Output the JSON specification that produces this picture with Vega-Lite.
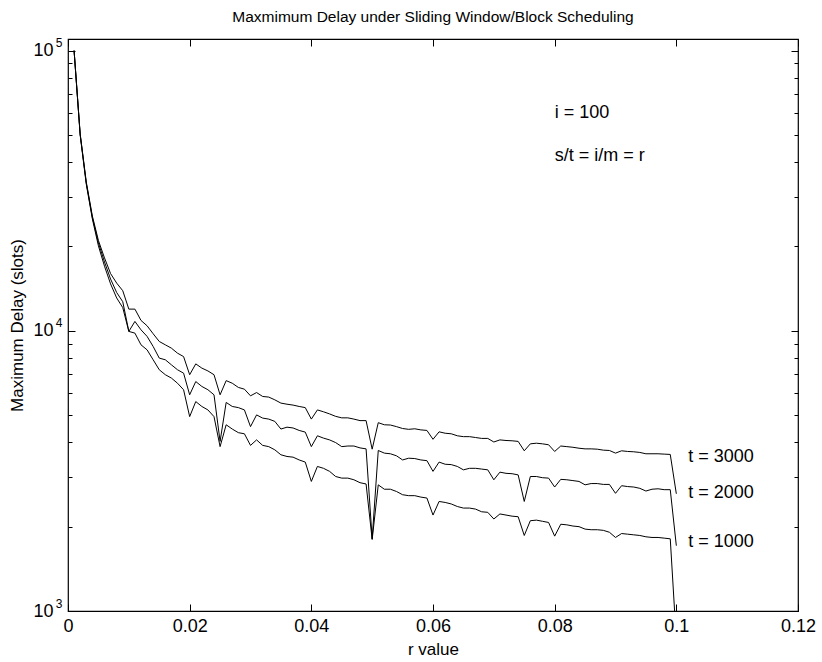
{
  "$schema": "https://vega.github.io/schema/vega-lite/v6.json",
  "width": 730,
  "height": 572,
  "autosize": {"type": "none"},
  "padding": {"left": 68, "top": 39, "right": 24, "bottom": 51},
  "background": "white",
  "title": {
    "text": "Maxmimum Delay under Sliding Window/Block Scheduling",
    "fontSize": 15.5,
    "fontWeight": "normal",
    "color": "black",
    "anchor": "middle",
    "offset": 11
  },
  "config": {
    "font": "Liberation Sans",
    "view": {"stroke": "black", "strokeWidth": 1.2},
    "axis": {
      "domain": false,
      "grid": false,
      "tickColor": "black",
      "tickWidth": 1,
      "labelColor": "black",
      "titleColor": "black",
      "titleFontWeight": "normal",
      "labelOverlap": false,
      "labelFlush": false,
      "labelBound": false
    }
  },
  "datasets": {
    "delay": [
      {"r":0.001,"t":1000,"d":100000},{"r":0.002,"t":1000,"d":50000},{"r":0.003,"t":1000,"d":33400},{"r":0.004,"t":1000,"d":25100},{"r":0.005,"t":1000,"d":20100},
      {"r":0.006,"t":1000,"d":17000},{"r":0.007,"t":1000,"d":14700},{"r":0.008,"t":1000,"d":13100},{"r":0.009,"t":1000,"d":12100},{"r":0.01,"t":1000,"d":9950},
      {"r":0.011,"t":1000,"d":9810},{"r":0.012,"t":1000,"d":8910},{"r":0.013,"t":1000,"d":8550},{"r":0.014,"t":1000,"d":7880},{"r":0.015,"t":1000,"d":7260},
      {"r":0.016,"t":1000,"d":6970},{"r":0.017,"t":1000,"d":6780},{"r":0.018,"t":1000,"d":6500},{"r":0.019,"t":1000,"d":6160},{"r":0.02,"t":1000,"d":4940},
      {"r":0.021,"t":1000,"d":5590},{"r":0.022,"t":1000,"d":5370},{"r":0.023,"t":1000,"d":5220},{"r":0.024,"t":1000,"d":4940},{"r":0.025,"t":1000,"d":3860},
      {"r":0.026,"t":1000,"d":4620},{"r":0.027,"t":1000,"d":4460},{"r":0.028,"t":1000,"d":4330},{"r":0.029,"t":1000,"d":4290},{"r":0.03,"t":1000,"d":3900},
      {"r":0.031,"t":1000,"d":4080},{"r":0.032,"t":1000,"d":3900},{"r":0.033,"t":1000,"d":3860},{"r":0.034,"t":1000,"d":3760},{"r":0.035,"t":1000,"d":3610},
      {"r":0.036,"t":1000,"d":3560},{"r":0.037,"t":1000,"d":3540},{"r":0.038,"t":1000,"d":3460},{"r":0.039,"t":1000,"d":3400},{"r":0.04,"t":1000,"d":2900},
      {"r":0.041,"t":1000,"d":3280},{"r":0.042,"t":1000,"d":3230},{"r":0.043,"t":1000,"d":3150},{"r":0.044,"t":1000,"d":3020},{"r":0.045,"t":1000,"d":2980},
      {"r":0.046,"t":1000,"d":2980},{"r":0.047,"t":1000,"d":2940},{"r":0.048,"t":1000,"d":2870},{"r":0.049,"t":1000,"d":2840},{"r":0.05,"t":1000,"d":1800},
      {"r":0.051,"t":1000,"d":2820},{"r":0.052,"t":1000,"d":2720},{"r":0.053,"t":1000,"d":2720},{"r":0.054,"t":1000,"d":2670},{"r":0.055,"t":1000,"d":2600},
      {"r":0.056,"t":1000,"d":2580},{"r":0.057,"t":1000,"d":2580},{"r":0.058,"t":1000,"d":2550},{"r":0.059,"t":1000,"d":2530},{"r":0.06,"t":1000,"d":2200},
      {"r":0.061,"t":1000,"d":2460},{"r":0.062,"t":1000,"d":2440},{"r":0.063,"t":1000,"d":2410},{"r":0.064,"t":1000,"d":2360},{"r":0.065,"t":1000,"d":2330},
      {"r":0.066,"t":1000,"d":2330},{"r":0.067,"t":1000,"d":2310},{"r":0.068,"t":1000,"d":2260},{"r":0.069,"t":1000,"d":2250},{"r":0.07,"t":1000,"d":2130},
      {"r":0.071,"t":1000,"d":2220},{"r":0.072,"t":1000,"d":2200},{"r":0.073,"t":1000,"d":2180},{"r":0.074,"t":1000,"d":2170},{"r":0.075,"t":1000,"d":1860},
      {"r":0.076,"t":1000,"d":2100},{"r":0.077,"t":1000,"d":2110},{"r":0.078,"t":1000,"d":2090},{"r":0.079,"t":1000,"d":2070},{"r":0.08,"t":1000,"d":1850},
      {"r":0.081,"t":1000,"d":2040},{"r":0.082,"t":1000,"d":2030},{"r":0.083,"t":1000,"d":2010},{"r":0.084,"t":1000,"d":2000},{"r":0.085,"t":1000,"d":1960},
      {"r":0.086,"t":1000,"d":1950},{"r":0.087,"t":1000,"d":1950},{"r":0.088,"t":1000,"d":1940},{"r":0.089,"t":1000,"d":1910},{"r":0.09,"t":1000,"d":1830},
      {"r":0.091,"t":1000,"d":1890},{"r":0.092,"t":1000,"d":1880},{"r":0.093,"t":1000,"d":1870},{"r":0.094,"t":1000,"d":1860},{"r":0.095,"t":1000,"d":1840},
      {"r":0.096,"t":1000,"d":1830},{"r":0.097,"t":1000,"d":1830},{"r":0.098,"t":1000,"d":1820},{"r":0.099,"t":1000,"d":1810},{"r":0.1,"t":1000,"d":790},

      {"r":0.001,"t":2000,"d":100000},{"r":0.002,"t":2000,"d":50200},{"r":0.003,"t":2000,"d":33700},{"r":0.004,"t":2000,"d":25400},{"r":0.005,"t":2000,"d":20600},
      {"r":0.006,"t":2000,"d":17600},{"r":0.007,"t":2000,"d":15300},{"r":0.008,"t":2000,"d":13700},{"r":0.009,"t":2000,"d":12700},{"r":0.01,"t":2000,"d":9950},
      {"r":0.011,"t":2000,"d":10800},{"r":0.012,"t":2000,"d":10080},{"r":0.013,"t":2000,"d":9550},{"r":0.014,"t":2000,"d":8790},{"r":0.015,"t":2000,"d":7990},
      {"r":0.016,"t":2000,"d":7880},{"r":0.017,"t":2000,"d":7560},{"r":0.018,"t":2000,"d":7260},{"r":0.019,"t":2000,"d":7060},{"r":0.02,"t":2000,"d":5910},
      {"r":0.021,"t":2000,"d":6590},{"r":0.022,"t":2000,"d":6330},{"r":0.023,"t":2000,"d":6160},{"r":0.024,"t":2000,"d":5910},{"r":0.025,"t":2000,"d":4030},
      {"r":0.026,"t":2000,"d":5550},{"r":0.027,"t":2000,"d":5370},{"r":0.028,"t":2000,"d":5320},{"r":0.029,"t":2000,"d":5220},{"r":0.03,"t":2000,"d":4550},
      {"r":0.031,"t":2000,"d":5010},{"r":0.032,"t":2000,"d":4880},{"r":0.033,"t":2000,"d":4840},{"r":0.034,"t":2000,"d":4750},{"r":0.035,"t":2000,"d":4460},
      {"r":0.036,"t":2000,"d":4530},{"r":0.037,"t":2000,"d":4500},{"r":0.038,"t":2000,"d":4410},{"r":0.039,"t":2000,"d":4350},{"r":0.04,"t":2000,"d":3860},
      {"r":0.041,"t":2000,"d":4220},{"r":0.042,"t":2000,"d":4140},{"r":0.043,"t":2000,"d":4080},{"r":0.044,"t":2000,"d":3990},{"r":0.045,"t":2000,"d":3860},
      {"r":0.046,"t":2000,"d":3880},{"r":0.047,"t":2000,"d":3880},{"r":0.048,"t":2000,"d":3820},{"r":0.049,"t":2000,"d":3790},{"r":0.05,"t":2000,"d":1810},
      {"r":0.051,"t":2000,"d":3740},{"r":0.052,"t":2000,"d":3660},{"r":0.053,"t":2000,"d":3640},{"r":0.054,"t":2000,"d":3580},{"r":0.055,"t":2000,"d":3460},
      {"r":0.056,"t":2000,"d":3510},{"r":0.057,"t":2000,"d":3500},{"r":0.058,"t":2000,"d":3460},{"r":0.059,"t":2000,"d":3440},{"r":0.06,"t":2000,"d":3150},
      {"r":0.061,"t":2000,"d":3400},{"r":0.062,"t":2000,"d":3340},{"r":0.063,"t":2000,"d":3330},{"r":0.064,"t":2000,"d":3280},{"r":0.065,"t":2000,"d":3190},
      {"r":0.066,"t":2000,"d":3230},{"r":0.067,"t":2000,"d":3230},{"r":0.068,"t":2000,"d":3210},{"r":0.069,"t":2000,"d":3190},{"r":0.07,"t":2000,"d":2940},
      {"r":0.071,"t":2000,"d":3130},{"r":0.072,"t":2000,"d":3100},{"r":0.073,"t":2000,"d":3090},{"r":0.074,"t":2000,"d":3060},{"r":0.075,"t":2000,"d":2460},
      {"r":0.076,"t":2000,"d":3020},{"r":0.077,"t":2000,"d":3020},{"r":0.078,"t":2000,"d":2990},{"r":0.079,"t":2000,"d":2980},{"r":0.08,"t":2000,"d":2770},
      {"r":0.081,"t":2000,"d":2950},{"r":0.082,"t":2000,"d":2940},{"r":0.083,"t":2000,"d":2920},{"r":0.084,"t":2000,"d":2900},{"r":0.085,"t":2000,"d":2820},
      {"r":0.086,"t":2000,"d":2850},{"r":0.087,"t":2000,"d":2850},{"r":0.088,"t":2000,"d":2830},{"r":0.089,"t":2000,"d":2830},{"r":0.09,"t":2000,"d":2630},
      {"r":0.091,"t":2000,"d":2800},{"r":0.092,"t":2000,"d":2780},{"r":0.093,"t":2000,"d":2770},{"r":0.094,"t":2000,"d":2740},{"r":0.095,"t":2000,"d":2680},
      {"r":0.096,"t":2000,"d":2720},{"r":0.097,"t":2000,"d":2730},{"r":0.098,"t":2000,"d":2710},{"r":0.099,"t":2000,"d":2710},{"r":0.1,"t":2000,"d":1710},

      {"r":0.001,"t":3000,"d":100000},{"r":0.002,"t":3000,"d":50500},{"r":0.003,"t":3000,"d":34000},{"r":0.004,"t":3000,"d":25700},{"r":0.005,"t":3000,"d":21000},
      {"r":0.006,"t":3000,"d":18200},{"r":0.007,"t":3000,"d":16000},{"r":0.008,"t":3000,"d":14800},{"r":0.009,"t":3000,"d":13900},{"r":0.01,"t":3000,"d":11950},
      {"r":0.011,"t":3000,"d":11950},{"r":0.012,"t":3000,"d":10890},{"r":0.013,"t":3000,"d":10420},{"r":0.014,"t":3000,"d":9760},{"r":0.015,"t":3000,"d":9160},
      {"r":0.016,"t":3000,"d":8910},{"r":0.017,"t":3000,"d":8670},{"r":0.018,"t":3000,"d":8320},{"r":0.019,"t":3000,"d":8090},{"r":0.02,"t":3000,"d":6970},
      {"r":0.021,"t":3000,"d":7620},{"r":0.022,"t":3000,"d":7360},{"r":0.023,"t":3000,"d":7190},{"r":0.024,"t":3000,"d":6970},{"r":0.025,"t":3000,"d":5910},
      {"r":0.026,"t":3000,"d":6640},{"r":0.027,"t":3000,"d":6500},{"r":0.028,"t":3000,"d":6280},{"r":0.029,"t":3000,"d":6190},{"r":0.03,"t":3000,"d":5860},
      {"r":0.031,"t":3000,"d":6020},{"r":0.032,"t":3000,"d":5830},{"r":0.033,"t":3000,"d":5800},{"r":0.034,"t":3000,"d":5670},{"r":0.035,"t":3000,"d":5520},
      {"r":0.036,"t":3000,"d":5470},{"r":0.037,"t":3000,"d":5430},{"r":0.038,"t":3000,"d":5370},{"r":0.039,"t":3000,"d":5320},{"r":0.04,"t":3000,"d":4840},
      {"r":0.041,"t":3000,"d":5220},{"r":0.042,"t":3000,"d":5140},{"r":0.043,"t":3000,"d":5050},{"r":0.044,"t":3000,"d":4950},{"r":0.045,"t":3000,"d":4890},
      {"r":0.046,"t":3000,"d":4890},{"r":0.047,"t":3000,"d":4840},{"r":0.048,"t":3000,"d":4780},{"r":0.049,"t":3000,"d":4780},{"r":0.05,"t":3000,"d":3780},
      {"r":0.051,"t":3000,"d":4700},{"r":0.052,"t":3000,"d":4620},{"r":0.053,"t":3000,"d":4610},{"r":0.054,"t":3000,"d":4550},{"r":0.055,"t":3000,"d":4480},
      {"r":0.056,"t":3000,"d":4450},{"r":0.057,"t":3000,"d":4470},{"r":0.058,"t":3000,"d":4430},{"r":0.059,"t":3000,"d":4410},{"r":0.06,"t":3000,"d":4100},
      {"r":0.061,"t":3000,"d":4360},{"r":0.062,"t":3000,"d":4310},{"r":0.063,"t":3000,"d":4290},{"r":0.064,"t":3000,"d":4220},{"r":0.065,"t":3000,"d":4190},
      {"r":0.066,"t":3000,"d":4190},{"r":0.067,"t":3000,"d":4160},{"r":0.068,"t":3000,"d":4130},{"r":0.069,"t":3000,"d":4130},{"r":0.07,"t":3000,"d":4010},
      {"r":0.071,"t":3000,"d":4080},{"r":0.072,"t":3000,"d":4060},{"r":0.073,"t":3000,"d":4050},{"r":0.074,"t":3000,"d":4030},{"r":0.075,"t":3000,"d":3730},
      {"r":0.076,"t":3000,"d":3950},{"r":0.077,"t":3000,"d":3970},{"r":0.078,"t":3000,"d":3950},{"r":0.079,"t":3000,"d":3920},{"r":0.08,"t":3000,"d":3710},
      {"r":0.081,"t":3000,"d":3880},{"r":0.082,"t":3000,"d":3860},{"r":0.083,"t":3000,"d":3840},{"r":0.084,"t":3000,"d":3810},{"r":0.085,"t":3000,"d":3790},
      {"r":0.086,"t":3000,"d":3790},{"r":0.087,"t":3000,"d":3780},{"r":0.088,"t":3000,"d":3750},{"r":0.089,"t":3000,"d":3740},{"r":0.09,"t":3000,"d":3660},
      {"r":0.091,"t":3000,"d":3730},{"r":0.092,"t":3000,"d":3710},{"r":0.093,"t":3000,"d":3700},{"r":0.094,"t":3000,"d":3680},{"r":0.095,"t":3000,"d":3640},
      {"r":0.096,"t":3000,"d":3640},{"r":0.097,"t":3000,"d":3640},{"r":0.098,"t":3000,"d":3630},{"r":0.099,"t":3000,"d":3620},{"r":0.1,"t":3000,"d":2620}
    ]
  },
  "layer": [
    {
      "data": {"name": "delay"},
      "transform": [{"filter": "datum.t == 1000"}],
      "mark": {"type": "line", "color": "black", "strokeWidth": 1, "clip": true},
      "encoding": {
        "x": {
          "field": "r", "type": "quantitative",
          "scale": {"domain": [0, 0.12], "nice": false, "zero": false},
          "axis": {
            "orient": "bottom", "values": [0, 0.02, 0.04, 0.06, 0.08, 0.1, 0.12],
            "labelExpr": "format(datum.value, '.2~f')", "ticks": false, "labelPadding": 6, "labelFontSize": 18,
            "title": "r value", "titleFontSize": 17, "titlePadding": 6
          }
        },
        "y": {
          "field": "d", "type": "quantitative",
          "scale": {"type": "log", "domain": [1000, 110000], "nice": false},
          "axis": {
            "orient": "left", "values": [1000, 10000, 100000],
            "labelExpr": "'10'", "ticks": false, "labelPadding": 15, "labelFontSize": 18,
            "title": "Maximum Delay (slots)", "titleFontSize": 17, "titlePadding": 6
          }
        }
      }
    },
    {
      "data": {"name": "delay"},
      "transform": [{"filter": "datum.t == 2000"}],
      "mark": {"type": "line", "color": "black", "strokeWidth": 1, "clip": true},
      "encoding": {
        "x": {
          "field": "r", "type": "quantitative",
          "scale": {"domain": [0, 0.12], "nice": false, "zero": false},
          "axis": {
            "orient": "bottom", "values": [0, 0.02, 0.04, 0.06, 0.08, 0.1, 0.12],
            "labels": false, "tickSize": -7, "title": null
          }
        },
        "y": {
          "field": "d", "type": "quantitative",
          "scale": {"type": "log", "domain": [1000, 110000], "nice": false},
          "axis": {
            "orient": "left", "values": [1000, 10000, 100000],
            "labelExpr": "'' + round(log(datum.value) / LN10)",
            "ticks": false, "labelPadding": 6, "labelFontSize": 12, "labelOffset": -8,
            "title": null
          }
        }
      }
    },
    {
      "data": {"name": "delay"},
      "transform": [{"filter": "datum.t == 3000"}],
      "mark": {"type": "line", "color": "black", "strokeWidth": 1, "clip": true},
      "encoding": {
        "x": {
          "field": "r", "type": "quantitative",
          "scale": {"domain": [0, 0.12], "nice": false, "zero": false},
          "axis": {
            "orient": "top", "values": [0, 0.02, 0.04, 0.06, 0.08, 0.1, 0.12],
            "labels": false, "tickSize": -7, "title": null
          }
        },
        "y": {
          "field": "d", "type": "quantitative",
          "scale": {"type": "log", "domain": [1000, 110000], "nice": false},
          "axis": {
            "orient": "left", "values": [1000, 10000, 100000],
            "labels": false, "tickSize": -7, "title": null
          }
        }
      }
    },
    {
      "data": {"name": "delay"},
      "transform": [
        {"filter": "datum.r == 0.099"},
        {"calculate": "'t = ' + datum.t", "as": "label"}
      ],
      "mark": {"type": "text", "align": "left", "baseline": "middle", "dx": 18, "dy": 3, "fontSize": 18, "color": "black"},
      "encoding": {
        "x": {"field": "r", "type": "quantitative", "scale": {"domain": [0, 0.12], "nice": false, "zero": false}, "axis": null},
        "y": {
          "field": "d", "type": "quantitative",
          "scale": {"type": "log", "domain": [1000, 110000], "nice": false},
          "axis": {
            "orient": "left",
            "values": [2000, 3000, 4000, 5000, 6000, 7000, 8000, 9000, 20000, 30000, 40000, 50000, 60000, 70000, 80000, 90000],
            "labels": false, "tickSize": -4, "title": null
          }
        },
        "text": {"field": "label"}
      }
    },
    {
      "data": {"values": [{"note": "i = 100", "r": 0.08, "d": 59900}]},
      "mark": {"type": "text", "align": "left", "baseline": "middle", "fontSize": 18, "color": "black"},
      "encoding": {
        "x": {"field": "r", "type": "quantitative", "scale": {"domain": [0, 0.12], "nice": false, "zero": false}, "axis": null},
        "y": {
          "field": "d", "type": "quantitative",
          "scale": {"type": "log", "domain": [1000, 110000], "nice": false},
          "axis": {
            "orient": "right", "values": [1000, 10000, 100000],
            "labels": false, "tickSize": -7, "title": null
          }
        },
        "text": {"field": "note"}
      }
    },
    {
      "data": {"values": [{"note": "s/t = i/m = r", "r": 0.08, "d": 42200}]},
      "mark": {"type": "text", "align": "left", "baseline": "middle", "fontSize": 18, "color": "black"},
      "encoding": {
        "x": {"field": "r", "type": "quantitative", "scale": {"domain": [0, 0.12], "nice": false, "zero": false}, "axis": null},
        "y": {
          "field": "d", "type": "quantitative",
          "scale": {"type": "log", "domain": [1000, 110000], "nice": false},
          "axis": {
            "orient": "right",
            "values": [2000, 3000, 4000, 5000, 6000, 7000, 8000, 9000, 20000, 30000, 40000, 50000, 60000, 70000, 80000, 90000],
            "labels": false, "tickSize": -4, "title": null
          }
        },
        "text": {"field": "note"}
      }
    }
  ],
  "resolve": {"axis": {"x": "independent", "y": "independent"}}
}
